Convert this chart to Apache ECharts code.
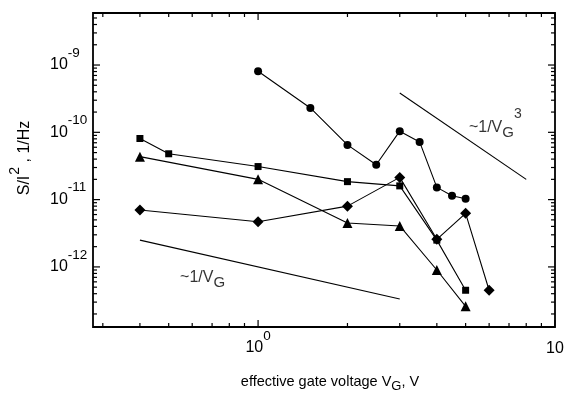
<!DOCTYPE html>
<html>
<head>
<meta charset="utf-8">
<script src="https://cdn.jsdelivr.net/npm/echarts@6/dist/echarts.min.js"></script>
<style>
  html, body { margin: 0; padding: 0; background: #fff; }
  #chart { width: 567px; height: 394px; }
</style>
</head>
<body>
<div id="chart"></div>
<script>
// Noise spectral density vs effective gate voltage (log-log)
const circleX = [1, 1.5, 2, 2.5, 3, 3.5, 4, 4.5, 5];
const circleY = [8.1e-10, 2.3e-10, 6.5e-11, 3.3e-11, 1.04e-10, 7.2e-11, 1.52e-11, 1.14e-11, 1.03e-11];
const squareX = [0.4, 0.5, 1, 2, 3, 4, 5];
const squareY = [8.1e-11, 4.8e-11, 3.1e-11, 1.85e-11, 1.6e-11, 2.5e-12, 4.5e-13];
const triangleX = [0.4, 1, 2, 3, 4, 5];
const triangleY = [4.35e-11, 2.0e-11, 4.5e-12, 4.06e-12, 9.0e-13, 2.6e-13];
const diamondX = [0.4, 1, 2, 3, 4, 5, 6];
const diamondY = [7.0e-12, 4.7e-12, 8.0e-12, 2.14e-11, 2.57e-12, 6.25e-12, 4.5e-13];

// guide slopes ~1/V^3 and ~1/V
const cubeGuideX = [3, 8];
const cubeGuideY = [3.84e-10, 2.0e-11];
const linGuideX = [0.4, 3];
const linGuideY = [2.5e-12, 3.33e-13];

// tick positions
const xMajorTicks = [1, 10];
const xMinorTicks = [0.3, 0.4, 0.5, 0.6, 0.7, 0.8, 0.9, 2, 3, 4, 5, 6, 7, 8, 9];
const yDecades = [1e-13, 1e-12, 1e-11, 1e-10, 1e-9];
const yMantissas = [2, 3, 4, 5, 6, 7, 8, 9];

const X_MIN = 0.278, X_MAX = 10;
const Y_MIN = 1.28e-13, Y_MAX = 5.93e-9;

const FONT = '"Liberation Sans", Arial, Helvetica, sans-serif';

const zip = (xs, ys) => xs.map((x, i) => [x, ys[i]]);

const isPow10 = v => Math.abs(Math.log10(v) - Math.round(Math.log10(v))) < 1e-6;

// tick data: [x, y, length]
const xTickData = xMajorTicks.map(v => [v, 1e-11, 7]).concat(xMinorTicks.map(v => [v, 1e-11, 4]));
const yTickData = [];
yDecades.forEach(d => {
  if (d >= Y_MIN) yTickData.push([1, d, 7]);
  yMantissas.forEach(m => {
    const v = m * d;
    if (v > Y_MIN && v < Y_MAX) yTickData.push([1, v, 4]);
  });
});

const chart = echarts.init(document.getElementById('chart'));

const supRich = {
  b: { fontSize: 16, fontFamily: FONT, color: '#000' },
  b2: { fontSize: 16, fontFamily: FONT, color: '#000', lineHeight: 39 },
  e: { fontSize: 13.5, fontFamily: FONT, color: '#000', padding: [0, 0, 24, 0] }
};

const lineStyle = { color: '#000', width: 1.1 };

function dataSeries(name, symbol, size, xs, ys) {
  return {
    name: name,
    type: 'line',
    symbol: symbol,
    symbolSize: size,
    data: zip(xs, ys),
    lineStyle: lineStyle,
    itemStyle: { color: '#000' },
    emphasis: { disabled: true },
    z: 3
  };
}

function tickSeries(data, isX) {
  return {
    type: 'custom',
    data: data,
    clip: false,
    silent: true,
    z: 4,
    renderItem: (params, api) => {
      const p = api.coord([api.value(0), api.value(1)]);
      const len = api.value(2);
      const cs = params.coordSys;
      const style = { stroke: '#000', lineWidth: 1.2 };
      let lines;
      if (isX) {
        const yb = cs.y + cs.height, yt = cs.y;
        lines = [
          { x1: p[0], y1: yb, x2: p[0], y2: yb - len },
          { x1: p[0], y1: yt, x2: p[0], y2: yt + len }
        ];
      } else {
        const xl = cs.x, xr = cs.x + cs.width;
        lines = [
          { x1: xl, y1: p[1], x2: xl + len, y2: p[1] },
          { x1: xr, y1: p[1], x2: xr - len, y2: p[1] }
        ];
      }
      return {
        type: 'group',
        children: lines.map(s => ({ type: 'line', shape: s, style: style }))
      };
    }
  };
}

function guideSeries(xs, ys) {
  return {
    type: 'line',
    symbol: 'none',
    data: zip(xs, ys),
    lineStyle: lineStyle,
    silent: true,
    z: 2
  };
}

const annoRich = {
  n: { fontSize: 16, fontFamily: FONT, color: '#000' },
  s: { fontSize: 15, fontFamily: FONT, color: '#000', padding: [10, 0, 0, 0] },
  p: { fontSize: 14, fontFamily: FONT, color: '#000', padding: [0, 0, 28, 0] }
};

const option = {
  animation: false,
  backgroundColor: '#fff',
  grid: {
    left: 93, right: 12, top: 13, bottom: 67,
    outerBoundsMode: 'none',
    show: true,
    borderColor: '#000',
    borderWidth: 1.8,
    backgroundColor: 'transparent'
  },
  xAxis: {
    type: 'log',
    logBase: 10,
    min: X_MIN,
    max: X_MAX,
    axisLine: { show: false },
    axisTick: { show: false },
    splitLine: { show: false },
    axisLabel: {
      margin: 2,
      showMinLabel: false,
      formatter: v => {
        if (!isPow10(v)) return '';
        const k = Math.round(Math.log10(v));
        return k === 0 ? '{b|10}{e|0}' : '{b2|10}';
      },
      rich: supRich
    },
    name: '{n|effective gate voltage V}{s|G}{n|, V}',
    nameLocation: 'middle',
    nameGap: 44,
    nameTextStyle: {
      padding: [0, 0, 0, 12],
      rich: {
        n: { fontSize: 14.5, fontFamily: FONT, color: '#000' },
        s: { fontSize: 13, fontFamily: FONT, color: '#000', padding: [9, 0, 0, 0] }
      }
    }
  },
  yAxis: {
    type: 'log',
    logBase: 10,
    min: Y_MIN,
    max: Y_MAX,
    axisLine: { show: false },
    axisTick: { show: false },
    splitLine: { show: false },
    axisLabel: {
      align: 'left',
      margin: 43,
      formatter: v => {
        if (!isPow10(v)) return '';
        return '{b|10}{e|' + Math.round(Math.log10(v)) + '}';
      },
      rich: supRich
    },
    name: '{n|S/I}{e|2}{n| , 1/Hz}',
    nameLocation: 'middle',
    nameRotate: 90,
    nameGap: 52,
    nameTextStyle: {
      padding: [0, 0, 0, 24],
      rich: {
        n: { fontSize: 16, fontFamily: FONT, color: '#000' },
        e: { fontSize: 14, fontFamily: FONT, color: '#000', padding: [0, 0, 19, 1] }
      }
    }
  },
  series: [
    dataSeries('circles', 'circle', 8, circleX, circleY),
    dataSeries('squares', 'rect', 7, squareX, squareY),
    dataSeries('triangles', 'triangle', 10, triangleX, triangleY),
    dataSeries('diamonds', 'diamond', 11, diamondX, diamondY),
    guideSeries(cubeGuideX, cubeGuideY),
    guideSeries(linGuideX, linGuideY),
    {
      type: 'scatter',
      symbolSize: 0,
      silent: true,
      data: [
        { value: [5.13, 1.16e-10], label: { formatter: '{n|~1/V}{s|G}{p|3}' } },
        { value: [0.546, 6.87e-13], label: { formatter: '{n|~1/V}{s|G}' } }
      ],
      label: {
        show: true,
        position: 'right',
        distance: 0,
        rich: annoRich
      }
    },
    tickSeries(xTickData, true),
    tickSeries(yTickData, false)
  ]
};

chart.setOption(option);
</script>
</body>
</html>
